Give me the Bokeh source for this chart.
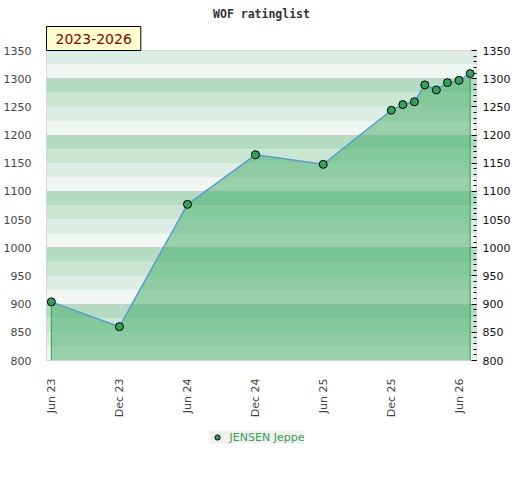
import math
import pandas as pd
from bokeh.plotting import figure
from bokeh.layouts import column
from bokeh.models import (Range1d, LinearAxis, SingleIntervalTicker, FixedTicker, Title,
                          DatetimeTickFormatter, BoxAnnotation, Legend, LegendItem)
from bokeh.embed import file_html
from bokeh.resources import INLINE

# ---- data ----
date_strings = ["2023-06-01", "2023-12-01", "2024-06-01", "2024-12-01", "2025-06-01",
                "2025-12-01", "2026-01-01", "2026-02-01", "2026-03-01", "2026-04-01",
                "2026-05-01", "2026-06-01", "2026-07-01"]
ratings = [904, 860, 1077, 1165, 1148, 1244, 1254, 1259, 1289, 1280, 1293, 1297, 1309]
player = "JENSEN Jeppe"
title_text = "WOF ratinglist"
period_text = "2023-2026"

tick_date_strings = ["2023-06-01", "2023-12-01", "2024-06-01", "2024-12-01",
                     "2025-06-01", "2025-12-01", "2026-06-01"]
tick_labels = ["Jun 23", "Dec 23", "Jun 24", "Dec 24", "Jun 25", "Dec 25", "Jun 26"]

y_min, y_max = 800, 1350
x_min, x_max = "2023-05-19", "2026-07-18"
band_colors = ["#f0f7f2", "#dcede3", "#c8e6d2", "#b3dcc3"]

area_color = "#3dab62"
line_color = "#5b9bd5"
marker_color = "#35a05a"

# ---- derived ----
dates = pd.to_datetime(date_strings)
tick_ms = [int(pd.Timestamp(d).value // 10**6) for d in tick_date_strings]

p = figure(frame_width=430, frame_height=310, x_axis_type="datetime",
           x_range=Range1d(pd.Timestamp(x_min), pd.Timestamp(x_max)),
           y_range=Range1d(y_min, y_max),
           output_backend="svg", toolbar_location=None,
           title=title_text,
           min_border_left=37, min_border_right=0,
           min_border_top=50, min_border_bottom=60,
           outline_line_color="#d4d4d4", outline_line_width=1,
           background_fill_color="white")

p.title.align = "center"
p.title.text_font = "DejaVu Sans Mono"
p.title.text_font_style = "bold"
p.title.text_font_size = "11.5px"
p.title.text_color = "#333333"
p.title.standoff = 7

period = Title(text=period_text, align="left", text_font="DejaVu Sans",
               text_font_size="14px", text_font_style="normal", text_color="#8b0000",
               background_fill_color="#ffffcc", background_fill_alpha=1,
               border_line_color="black", border_line_width=1,
               padding=dict(x=9, y=7), standoff=0, offset=0)
p.add_layout(period, "above")

# bands
for b in range(y_min, y_max, 25):
    p.add_layout(BoxAnnotation(bottom=b, top=b + 25, fill_color=band_colors[(b % 100) // 25],
                               fill_alpha=1, line_color=None, level="image"))

# grid
p.xgrid.grid_line_color = None
p.ygrid.ticker = SingleIntervalTicker(interval=100)
p.ygrid.grid_line_color = "#cccccc"
p.ygrid.grid_line_width = 1

# left axis
ly = p.yaxis[0]
ly.ticker = SingleIntervalTicker(interval=50, num_minor_ticks=0)
ly.axis_line_color = None
ly.major_tick_line_color = None
ly.minor_tick_line_color = None
ly.major_label_text_color = "#444444"
ly.major_label_text_font = "DejaVu Sans"
ly.major_label_text_font_size = "11px"
ly.major_label_standoff = 9

# right axis
ry = LinearAxis(ticker=SingleIntervalTicker(interval=50, num_minor_ticks=5),
                axis_line_color=None,
                major_tick_in=5, major_tick_out=0,
                minor_tick_in=3, minor_tick_out=0,
                major_tick_line_color="black", minor_tick_line_color="black",
                major_label_text_color="#111111",
                major_label_text_font="DejaVu Sans",
                major_label_text_font_size="11px",
                major_label_standoff=6)
p.add_layout(ry, "right")

# bottom axis
xa = p.xaxis[0]
xa.ticker = FixedTicker(ticks=tick_ms)
fmt = "%b %y"
xa.formatter = DatetimeTickFormatter(milliseconds=fmt, seconds=fmt, minsec=fmt, minutes=fmt,
                                     hourmin=fmt, hours=fmt, days=fmt, months=fmt, years=fmt)
xa.major_label_overrides = {t: lab for t, lab in zip(tick_ms, tick_labels)}
xa.major_label_orientation = math.pi / 2
xa.axis_line_color = None
xa.major_tick_line_color = None
xa.minor_tick_line_color = None
xa.major_label_text_color = "#444444"
xa.major_label_text_font = "DejaVu Sans"
xa.major_label_text_font_size = "11px"
xa.major_label_standoff = 12

# area, edges, line, markers
p.varea(x=dates, y1=y_min, y2=ratings, fill_color=area_color, fill_alpha=0.5)
p.segment(x0=[dates[0], dates[-1]], y0=[ratings[0], ratings[-1]],
          x1=[dates[0], dates[-1]], y1=[y_min, y_min],
          line_color="#2e9e4f", line_width=1)
p.line(x=dates, y=ratings, line_color=line_color, line_width=1.5)
p.scatter(x=dates, y=ratings, size=8, fill_color=marker_color,
          line_color="black", line_width=1)

# legend strip under the chart
lf = figure(width=504, height=33, x_range=Range1d(0, 1), y_range=Range1d(0, 1),
            output_backend="svg", toolbar_location=None, min_border=0,
            x_axis_location=None, y_axis_location=None, outline_line_color=None)
lf.xgrid.grid_line_color = None
lf.ygrid.grid_line_color = None
# same series, outside the strip's view: only its legend glyph is seen
lsc = lf.scatter(x=dates, y=ratings, size=8, fill_color=marker_color,
                 line_color="black", line_width=1)
legend = Legend(items=[LegendItem(label=player, renderers=[lsc])],
                location="center", orientation="horizontal",
                background_fill_color="#f0f0f0", background_fill_alpha=1,
                border_line_color=None,
                label_text_color="#34a35a", label_text_font="DejaVu Sans",
                label_text_font_size="11px",
                glyph_width=16, glyph_height=13, label_height=13,
                label_standoff=5, padding=5, margin=0)
lf.add_layout(legend)

root = column(p, lf, spacing=0)
open("out.html", "w").write(file_html(root, INLINE))
